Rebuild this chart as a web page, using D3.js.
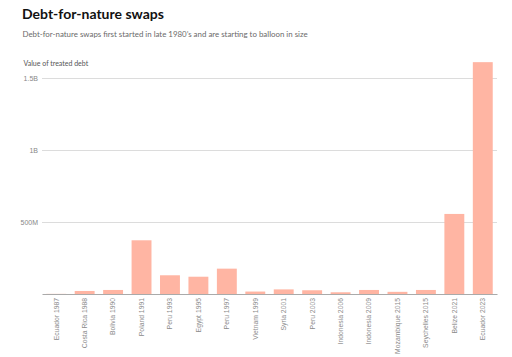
<!DOCTYPE html>
<html><head><meta charset="utf-8">
<script src="https://cdn.jsdelivr.net/npm/d3@7"></script>
<style>
body{margin:0;background:#fff;}
svg{display:block;font-family:"Source Sans Pro","Lato","Noto Sans",sans-serif;}
</style></head>
<body>
<script>
const categories = ["Ecuador 1987","Costa Rica 1988","Bolivia 1990","Poland 1991","Peru 1993","Egypt 1995","Peru 1997","Vietnam 1999","Syria 2001","Peru 2003","Indonesia 2006","Indonesia 2009","Mozambique 2015","Seychelles 2015","Belize 2021","Ecuador 2023"];
const values = [1, 21, 28, 373, 130, 120, 176, 17, 32, 26, 12, 28, 15, 28, 556, 1610]; // millions USD
const tickValues = [500, 1000, 1500];
const tickLabels = ["500M", "1B", "1.5B"];

const W = 512, H = 357;
const svg = d3.select("body").append("svg").attr("width", W).attr("height", H);

const x = d3.scaleBand().domain(categories).range([42, 497]).paddingInner(0.3).paddingOuter(0.15);
const y = d3.scaleLinear().domain([0, 1500]).range([294, 78]);

svg.append("text").attr("x", 22).attr("y", 19).text("Debt-for-nature swaps")
  .attr("font-size", 14).attr("font-weight", 700).attr("fill", "#111");
svg.append("text").attr("x", 22.5).attr("y", 36.5).text("Debt-for-nature swaps first started in late 1980’s and are starting to balloon in size")
  .attr("font-size", 7.9).attr("fill", "#6a6a6a");
svg.append("text").attr("x", 23.5).attr("y", 65.5).text("Value of treated debt")
  .attr("font-size", 7).attr("fill", "#555");

// grid
const yAxis = d3.axisLeft(y).tickValues(tickValues).tickFormat((d, i) => tickLabels[i]).tickSize(-(497 - 42)).tickPadding(4);
const gy = svg.append("g").attr("transform", "translate(42,0)").call(yAxis);
gy.select(".domain").remove();
gy.selectAll(".tick line").attr("stroke", "#dcdcdc").attr("stroke-width", 1);
gy.selectAll(".tick text").attr("font-size", 7).attr("fill", "#888").attr("font-family", "inherit");

// bars
svg.append("g").selectAll("rect").data(categories).join("rect")
  .attr("x", d => x(d)).attr("width", x.bandwidth())
  .attr("y", (d, i) => y(values[i])).attr("height", (d, i) => y(0) - y(values[i]))
  .attr("fill", "#ffb5a3");

// x axis
const xAxis = d3.axisBottom(x).tickSize(0).tickPadding(0);
const gx = svg.append("g").attr("transform", "translate(0,294)").call(xAxis);
gx.select(".domain").attr("stroke", "#aaa").attr("stroke-width", 1.2);
gx.selectAll(".tick text")
  .attr("font-size", 6.8).attr("fill", "#8a8a8a").attr("font-family", "inherit")
  .attr("transform", "rotate(-90)").attr("text-anchor", "end")
  .attr("x", -4).attr("y", 0).attr("dy", "0.35em");
</script>
</body></html>
